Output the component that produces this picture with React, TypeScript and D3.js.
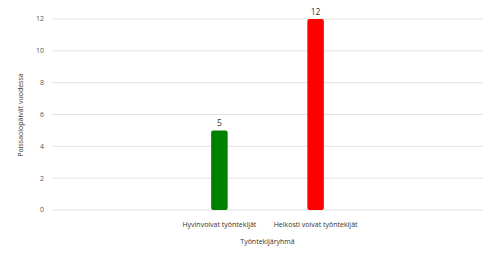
import React from "react";
import * as d3 from "d3";

const categories = ["Hyvinvoivat työntekijät", "Heikosti voivat työntekijät"];
const values = [5, 12];
const barColors = ["#008000", "#ff0000"];
const yTicks = [0, 2, 4, 6, 8, 10, 12];
const yTitle = "Poissaolopäivät vuodessa";
const xTitle = "Työntekijäryhmä";

export default function App() {
  const W = 500, H = 253;
  const left = 52, right = 483, top = 19, bottom = 210;
  const x = d3.scalePoint<string>().domain(categories).range([left, right]).padding(1.74);
  const y = d3.scaleLinear().domain([0, 12]).range([bottom, top]);
  const bw = 16.5;
  const font = "'Open Sans', 'Noto Sans', sans-serif";
  return (
    <svg width={W} height={H} style={{ position: "absolute", left: 0, top: 0, background: "#fff" }} fontFamily={font}>
      {yTicks.map((t) => (
        <g key={t}>
          <line x1={left} x2={right} y1={y(t)} y2={y(t)} stroke="#e3e3e3" strokeWidth={1} />
          <text x={44} y={y(t)} dy="0.35em" textAnchor="end" fontSize={7} fill="#555">{t}</text>
        </g>
      ))}
      {categories.map((c, i) => {
        const cx = x(c)!;
        return (
          <g key={c}>
            <path
              d={(() => {
                const x0 = cx - bw / 2, x1 = cx + bw / 2, y0 = y(values[i]), y1 = y(0), r = 2;
                return `M${x0},${y0 + r}Q${x0},${y0} ${x0 + r},${y0}L${x1 - r},${y0}Q${x1},${y0} ${x1},${y0 + r}L${x1},${y1 - r}Q${x1},${y1} ${x1 - r},${y1}L${x0 + r},${y1}Q${x0},${y1} ${x0},${y1 - r}Z`;
              })()}
              fill={barColors[i]}
            />
            <text x={cx} y={y(values[i]) - 7} dy="0.35em" textAnchor="middle" fontSize={8.5} fill="#333">{values[i]}</text>
            <text x={cx} y={225} dy="0.35em" textAnchor="middle" fontSize={7} fill="#333">{c}</text>
          </g>
        );
      })}
      <text x={(left + right) / 2} y={242} dy="0.35em" textAnchor="middle" fontSize={7} fill="#333">{xTitle}</text>
      <text transform={`translate(21,115) rotate(-90)`} dy="0.35em" textAnchor="middle" fontSize={7} fill="#333">{yTitle}</text>
    </svg>
  );
}
